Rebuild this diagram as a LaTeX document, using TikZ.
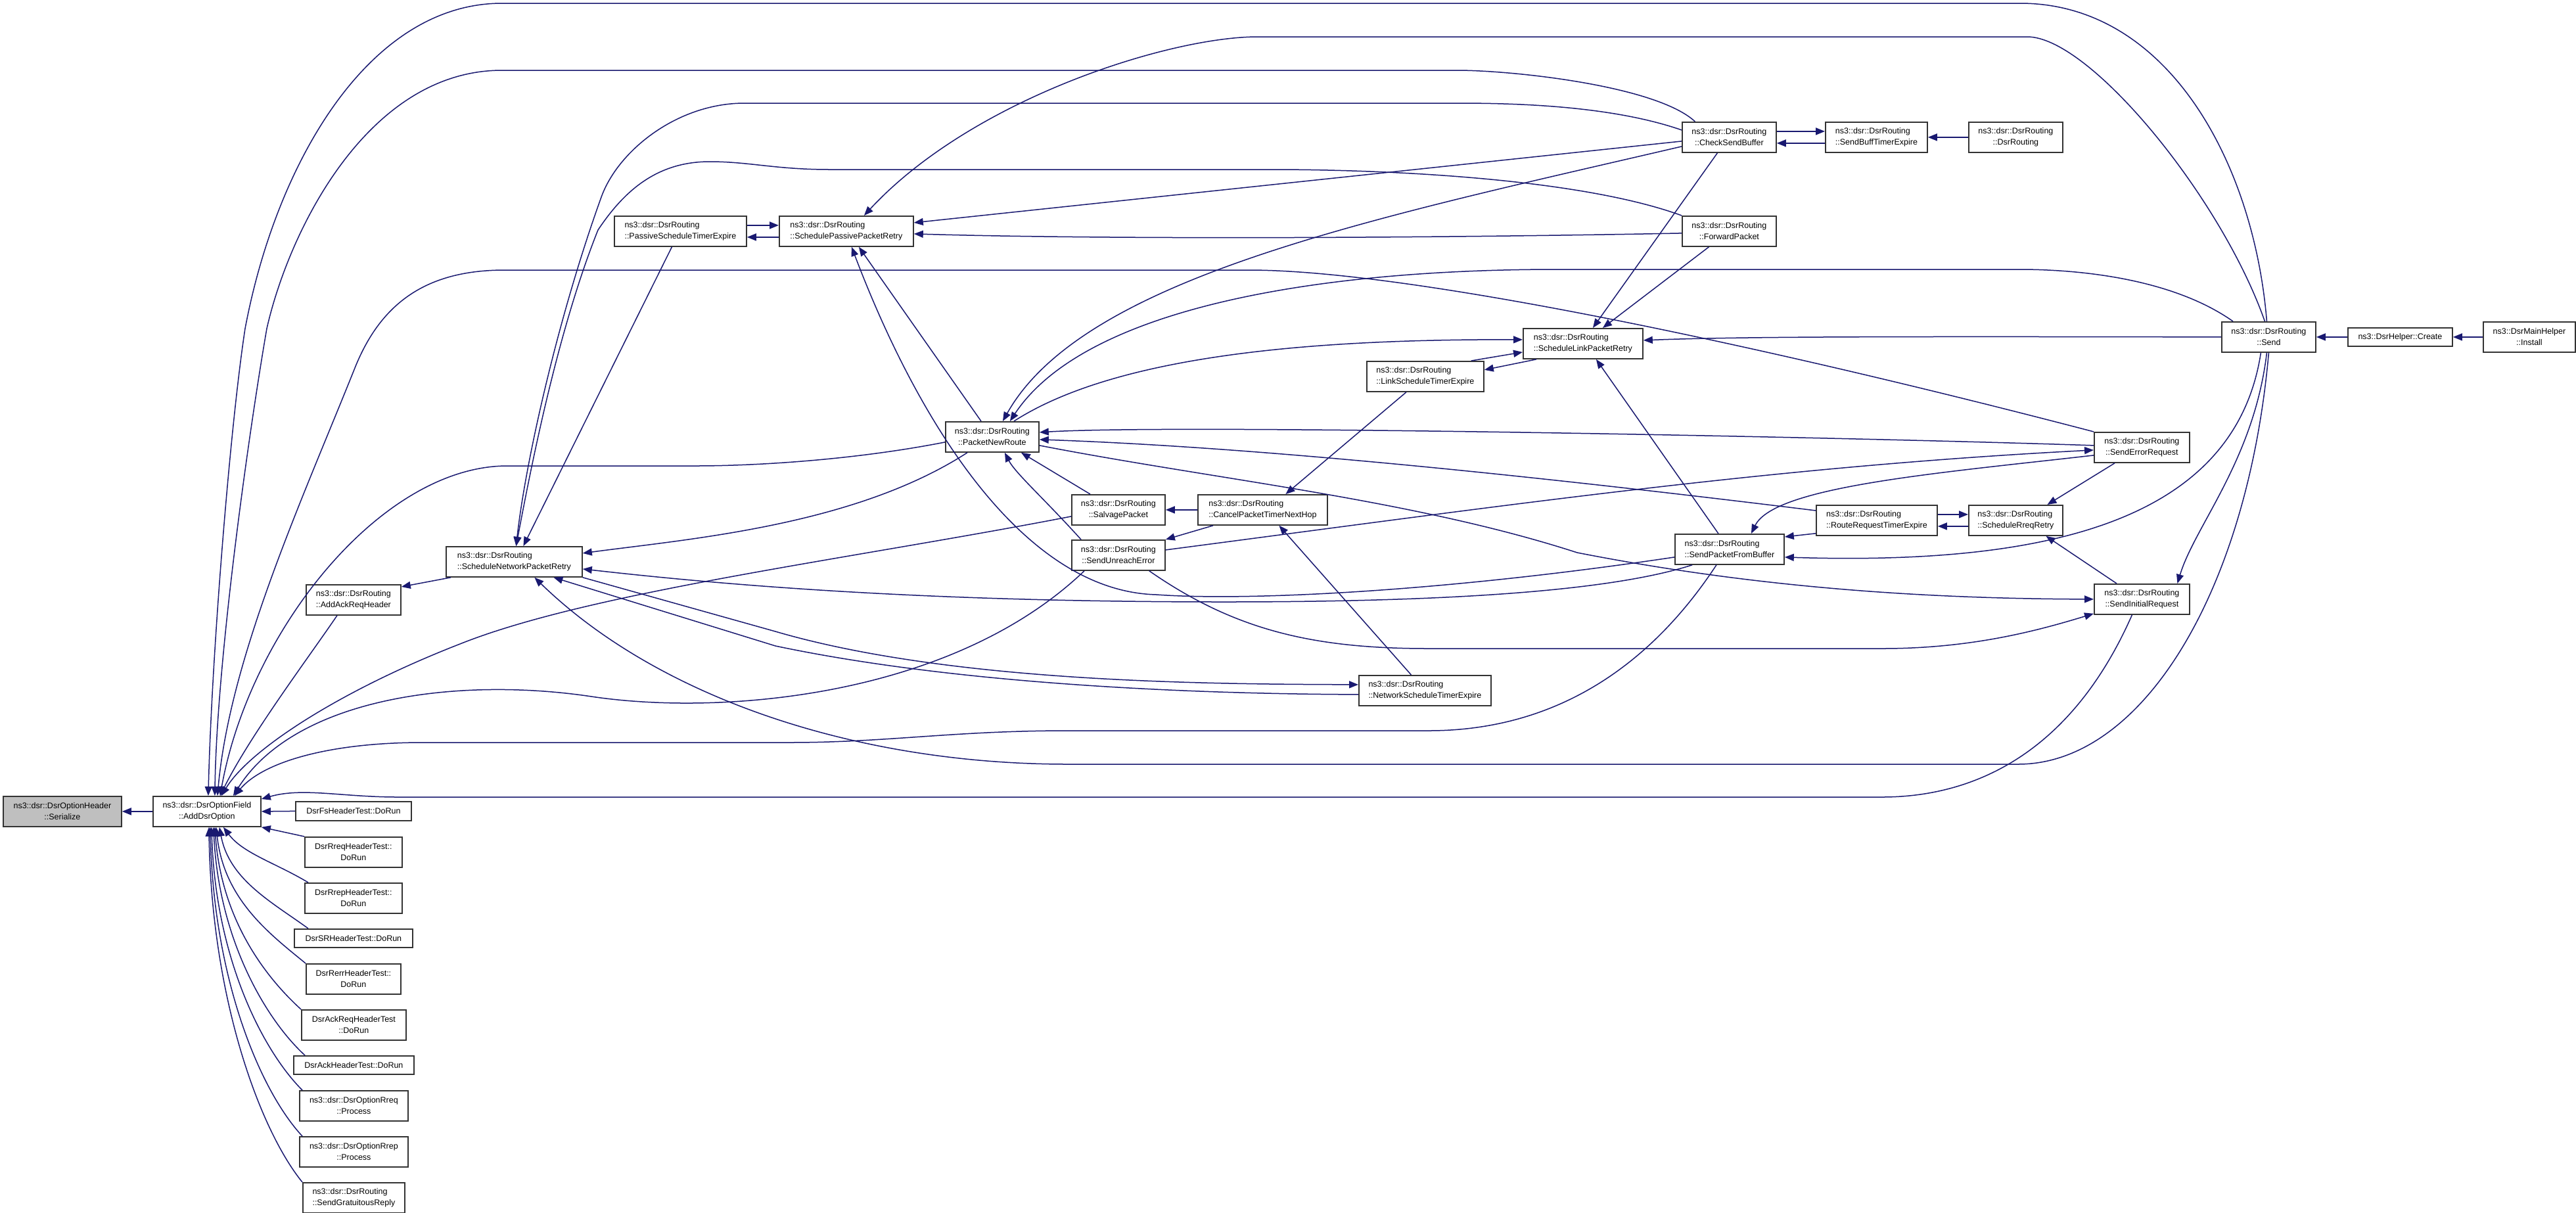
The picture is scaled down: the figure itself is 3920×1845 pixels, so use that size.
\documentclass[tikz,border=0pt]{standalone}
\usepackage{fontspec}
\setmainfont{Liberation Sans}
\usetikzlibrary{arrows.meta, positioning, calc}
\definecolor{edgeblue}{HTML}{191970}
\tikzstyle{fn} = [draw=black!80, line width=1.8pt, fill=white, minimum height=46pt, inner sep=0pt, anchor=north west, align=center, font=\fontsize{12.5}{17}\selectfont]
\tikzstyle{fnl} = [fn, align=left]
\tikzstyle{call} = [draw=edgeblue, line width=1.5pt, -{Triangle[length=14pt, width=11pt]}]

\begin{document}
\begin{tikzpicture}[x=1pt, y=-1pt]
		\fill[white] (0,0) rectangle (3920,1845);
		\useasboundingbox (0,0) rectangle (3920,1845);

		\coordinate (serial) at (4,    1211);
		\coordinate (adddsr) at (232,  1211);
		\coordinate (fstest) at (449,  1219);
		\coordinate (rqtest) at (463,  1273);
		\coordinate (rptest) at (463,  1343);
		\coordinate (srtest) at (447,  1413);
		\coordinate (retest) at (465,  1466);
		\coordinate (aqtest) at (458,  1536);
		\coordinate (aktest) at (446,  1606);
		\coordinate (rqproc) at (455,  1659);
		\coordinate (rpproc) at (455,  1729);
		\coordinate (gratui) at (460,  1799);
		\coordinate (ackreq) at (465,  889);
		\coordinate (netret) at (678,  831);
		\coordinate (pastim) at (934,  328);
		\coordinate (pasret) at (1185, 328);
		\coordinate (newrou) at (1438, 641);
		\coordinate (salvag) at (1630, 752);
		\coordinate (cancel) at (1822, 752);
		\coordinate (unreac) at (1630, 821);
		\coordinate (nettim) at (2067, 1027);
		\coordinate (lnktim) at (2079, 549);
		\coordinate (lnkret) at (2317, 499);
		\coordinate (chkbuf) at (2559, 185);
		\coordinate (forwar) at (2559, 328);
		\coordinate (buftim) at (2777, 185);
		\coordinate (constr) at (2995, 185);
		\coordinate (frombu) at (2548, 812);
		\coordinate (reqtim) at (2763, 768);
		\coordinate (rreqre) at (2995, 768);
		\coordinate (errreq) at (3186, 657);
		\coordinate (initre) at (3186, 888);
		\coordinate (sendpk) at (3380, 489);
		\coordinate (create) at (3572, 498);
		\coordinate (instal) at (3778, 489);

		\node[fn, minimum width=180pt, fill=black!25] (SRL) at (serial) {ns3::dsr::DsrOptionHeader\\::Serialize};
		\node[fn, minimum width=164pt] (ADO) at (adddsr) {ns3::dsr::DsrOptionField\\::AddDsrOption};
		\node[fn, minimum width=176pt, minimum height=29pt] (TFS) at (fstest) {DsrFsHeaderTest::DoRun};
		\node[fn, minimum width=148pt] (TRQ) at (rqtest) {DsrRreqHeaderTest::\\DoRun};
		\node[fn, minimum width=148pt] (TRP) at (rptest) {DsrRrepHeaderTest::\\DoRun};
		\node[fn, minimum width=180pt, minimum height=28pt] (TSR) at (srtest) {DsrSRHeaderTest::DoRun};
		\node[fn, minimum width=144pt] (TRE) at (retest) {DsrRerrHeaderTest::\\DoRun};
		\node[fn, minimum width=159pt] (TAQ) at (aqtest) {DsrAckReqHeaderTest\\::DoRun};
		\node[fn, minimum width=183pt, minimum height=28pt] (TAK) at (aktest) {DsrAckHeaderTest::DoRun};
		\node[fn, minimum width=165pt] (PRQ) at (rqproc) {ns3::dsr::DsrOptionRreq\\::Process};
		\node[fn, minimum width=165pt] (PRP) at (rpproc) {ns3::dsr::DsrOptionRrep\\::Process};
		\node[fnl, minimum width=155pt] (SGR) at (gratui) {ns3::dsr::DsrRouting\\::SendGratuitousReply};
		\node[fn, minimum width=144pt] (AAR) at (ackreq) {ns3::dsr::DsrRouting\\::AddAckReqHeader};
		\node[fnl, minimum width=207pt] (SNP) at (netret) {ns3::dsr::DsrRouting\\::ScheduleNetworkPacketRetry};
		\node[fnl, minimum width=201pt] (PST) at (pastim) {ns3::dsr::DsrRouting\\::PassiveScheduleTimerExpire};
		\node[fnl, minimum width=204pt] (SPP) at (pasret) {ns3::dsr::DsrRouting\\::SchedulePassivePacketRetry};
		\node[fn, minimum width=142pt] (PNR) at (newrou) {ns3::dsr::DsrRouting\\::PacketNewRoute};
		\node[fn, minimum width=142pt] (SLV) at (salvag) {ns3::dsr::DsrRouting\\::SalvagePacket};
		\node[fnl, minimum width=197pt] (CPT) at (cancel) {ns3::dsr::DsrRouting\\::CancelPacketTimerNextHop};
		\node[fn, minimum width=142pt] (SUE) at (unreac) {ns3::dsr::DsrRouting\\::SendUnreachError};
		\node[fnl, minimum width=201pt] (NST) at (nettim) {ns3::dsr::DsrRouting\\::NetworkScheduleTimerExpire};
		\node[fnl, minimum width=178pt] (LST) at (lnktim) {ns3::dsr::DsrRouting\\::LinkScheduleTimerExpire};
		\node[fnl, minimum width=182pt] (SLP) at (lnkret) {ns3::dsr::DsrRouting\\::ScheduleLinkPacketRetry};
		\node[fn, minimum width=143pt] (CSB) at (chkbuf) {ns3::dsr::DsrRouting\\::CheckSendBuffer};
		\node[fn, minimum width=143pt] (FWP) at (forwar) {ns3::dsr::DsrRouting\\::ForwardPacket};
		\node[fnl, minimum width=155pt] (SBT) at (buftim) {ns3::dsr::DsrRouting\\::SendBuffTimerExpire};
		\node[fn, minimum width=143pt] (DRC) at (constr) {ns3::dsr::DsrRouting\\::DsrRouting};
		\node[fnl, minimum width=166pt] (SPB) at (frombu) {ns3::dsr::DsrRouting\\::SendPacketFromBuffer};
		\node[fnl, minimum width=184pt] (RRT) at (reqtim) {ns3::dsr::DsrRouting\\::RouteRequestTimerExpire};
		\node[fnl, minimum width=143pt] (SRR) at (rreqre) {ns3::dsr::DsrRouting\\::ScheduleRreqRetry};
		\node[fn, minimum width=145pt] (SER) at (errreq) {ns3::dsr::DsrRouting\\::SendErrorRequest};
		\node[fn, minimum width=145pt] (SIR) at (initre) {ns3::dsr::DsrRouting\\::SendInitialRequest};
		\node[fn, minimum width=143pt] (SND) at (sendpk) {ns3::dsr::DsrRouting\\::Send};
		\node[fn, minimum width=159pt, minimum height=28pt] (HLP) at (create) {ns3::DsrHelper::Create};
		\node[fn, minimum width=140pt] (INS) at (instal) {ns3::DsrMainHelper\\::Install};

		\draw[call] (ADO.west) -- (SRL.east);
		\draw[call] (TFS.west) -- (ADO.east);
		\draw[call] (TRQ.north west) -- (ADO.south east);
		\draw[call] ($(TRP.north west)+(6,0)$) .. controls +(-50,-30) and +(30,40) .. ($(ADO.south)+(25,0)$);
		\draw[call] ($(TSR.north west)+(22,0)$) .. controls +(-55,-40) and +(15,80) .. ($(ADO.south)+(19,0)$);
		\draw[call] (TRE.north west) .. controls +(-55,-45) and +(12,110) .. ($(ADO.south)+(14,0)$);
		\draw[call] (TAQ.north west) .. controls +(-55,-50) and +(10,140) .. ($(ADO.south)+(12,0)$);
		\draw[call] ($(TAK.north west)+(18,0)$) .. controls +(-60,-55) and +(8,170) .. ($(ADO.south)+(10,0)$);
		\draw[call] ($(PRQ.north west)+(5,0)$) .. controls +(-60,-60) and +(6,200) .. ($(ADO.south)+(7,0)$);
		\draw[call] ($(PRP.north west)+(5,0)$) .. controls +(-65,-70) and +(5,230) .. ($(ADO.south)+(5,0)$);
		\draw[call] (SGR.north west) .. controls +(-65,-80) and +(4,260) .. ($(ADO.south)+(3,0)$);

		\draw[call] ($(AAR.south)+(-25,0)$) .. controls (470,1000) and (380,1120) .. ($(ADO.north)+(20,0)$);
		\draw[call] ($(SNP.south west)+(8,0)$) -- ($(AAR.north east)+(0,4)$);
		\draw[call] ($(SND.north)+(-3,0)$) .. controls (3430,250) and (3300,5) .. (3074,5) -- (764,5) .. controls (560,5) and (420,250) .. (373,500) .. controls (350,650) and (322,1000) .. ($(ADO.north)+(2,0)$);
		\draw[call] ($(CSB.north)+(-52,0)$) .. controls (2520,130) and (2300,107) .. (2217,107) -- (764,107) .. controls (560,107) and (440,350) .. (406,500) .. controls (380,650) and (330,1000) .. ($(ADO.north)+(12,0)$);
		\draw[call] (SER.north west) .. controls (2700,530) and (2150,411) .. (1900,411) -- (768,411) .. controls (650,411) and (580,460) .. (540,560) .. controls (460,760) and (350,1000) .. ($(ADO.north)+(16,0)$);
		\draw[call] ($(PNR.west)+(0,8)$) .. controls (1300,700) and (1150,709) .. (1059,709) -- (772,709) .. controls (580,709) and (380,960) .. ($(ADO.north)+(20,0)$);
		\draw[call] ($(SLV.west)+(0,10)$) .. controls (1300,850) and (900,900) .. (700,980) .. controls (520,1050) and (380,1140) .. ($(ADO.north)+(22,0)$);
		\draw[call] ($(SUE.south west)+(20,0)$) .. controls (1450,1060) and (1100,1090) .. (900,1060) .. controls (700,1030) and (450,1060) .. ($(ADO.north)+(40,0)$);
		\draw[call] ($(SPB.south)+(-20,0)$) .. controls (2500,1030) and (2350,1112) .. (2174,1112) -- (1625,1112) .. controls (1450,1112) and (1350,1130) .. (1200,1130) -- (643,1130) .. controls (500,1130) and (400,1160) .. ($(ADO.north)+(42,0)$);
		\draw[call] ($(SIR.south)+(-15,0)$) .. controls (3150,1150) and (3000,1213) .. (2864,1213) -- (605,1213) .. controls (520,1213) and (460,1198) .. ($(ADO.north east)+(0,5)$);

		\draw[call] ($(PST.east)+(0,-9)$) -- ($(SPP.west)+(0,-9)$);
		\draw[call] ($(SPP.west)+(0,9)$) -- ($(PST.east)+(0,9)$);
		\draw[call] ($(PST.south)+(-13,0)$) -- ($(SNP.north)+(14,0)$);
		\draw[call] ($(CSB.west)+(0,-11)$) .. controls (2450,160) and (2300,157) .. (2217,157) -- (1133,157) .. controls (1030,157) and (940,230) .. (915,300) .. controls (850,480) and (800,700) .. ($(SNP.north)+(3,0)$);
		\draw[call] (FWP.north west) .. controls (2400,270) and (2100,258) .. (1935,258) -- (1263,258) .. controls (1180,258) and (1140,246) .. (1080,246) .. controls (1000,246) and (950,290) .. (910,350) .. controls (850,500) and (810,700) .. ($(SNP.north)+(3,0)$);
		\draw[call] ($(CSB.west)+(0,6)$) -- ($(SPP.east)+(0,-13)$);
		\draw[call] ($(FWP.west)+(0,3)$) .. controls (2200,362) and (1700,365) .. ($(SPP.east)+(0,4)$);
		\draw[call] ($(SND.north)+(-6,0)$) .. controls (3380,300) and (3180,56) .. (3085,56) -- (1914,56) .. controls (1780,56) and (1480,150) .. ($(SPP.north)+(27,0)$);
		\draw[call] ($(CSB.west)+(0,14)$) .. controls (2100,330) and (1650,420) .. ($(PNR.north)+(16,0)$);
		\draw[call] ($(SND.north west)+(18,0)$) .. controls (3300,420) and (3150,410) .. (3073,410) -- (2369,410) .. controls (2000,410) and (1650,470) .. ($(PNR.north)+(27,0)$);
		\draw[call] ($(PNR.north)+(33,0)$) .. controls (1700,540) and (2000,516) .. ($(SLP.west)+(0,-6)$);
		\draw[call] ($(PNR.north west)+(55,0)$) -- ($(SPP.south)+(19,0)$);
		\draw[call] ($(SPB.west)+(0,12)$) .. controls (2200,900) and (1900,915) .. (1760,905) .. controls (1560,900) and (1400,650) .. ($(SPP.south)+(8,0)$);
		\draw[call] ($(SPB.south west)+(27,0)$) .. controls (2450,900) and (2200,916) .. (1863,916) .. controls (1400,916) and (1100,890) .. ($(SNP.east)+(0,11)$);
		\draw[call] ($(PNR.south west)+(34,0)$) .. controls (1300,800) and (1050,820) .. ($(SNP.east)+(0,-13)$);
		\draw[call] ($(SLV.north west)+(29,0)$) -- ($(PNR.south)+(44,0)$);
		\draw[call] ($(SUE.north west)+(15,0)$) .. controls (1590,760) and (1545,720) .. ($(PNR.south)+(19,0)$);
		\draw[call] (CPT.west) -- (SLV.east);
		\draw[call] ($(CPT.south west)+(24,0)$) -- (SUE.north east);
		\draw[call] ($(LST.south)+(-29,0)$) -- ($(CPT.north)+(35,0)$);
		\draw[call] ($(NST.north)+(-21,0)$) -- ($(CPT.south)+(25,0)$);
		\draw[call] (SNP.south east) -- (1180,961) .. controls (1450,1040) and (1850,1041) .. ($(NST.west)+(0,-9)$);
		\draw[call] ($(NST.west)+(0,6)$) .. controls (1800,1056) and (1450,1040) .. (1180,983) -- ($(SNP.south)+(60,0)$);
		\draw[call] (SND.south) .. controls (3420,900) and (3260,1163) .. (3071,1163) -- (1625,1163) .. controls (1300,1163) and (1000,1060) .. ($(SNP.south)+(31,0)$);
		\draw[call] ($(SND.south)+(-3,0)$) .. controls (3430,700) and (3340,800) .. ($(SIR.north)+(54,0)$);
		\draw[call] ($(SND.south)+(-12,0)$) .. controls (3400,800) and (3100,860) .. ($(SPB.east)+(0,12)$);
		\draw[call] (SND.west) .. controls (2900,512) and (2650,512) .. ($(SLP.east)+(0,-5)$);
		\draw[call] ($(CSB.south)+(-18,0)$) -- ($(SLP.north)+(15,0)$);
		\draw[call] ($(FWP.south)+(-31,0)$) -- ($(SLP.north)+(30,0)$);
		\draw[call] ($(SPB.north)+(-17,0)$) -- ($(SLP.south)+(20,0)$);
		\draw[call] ($(LST.north east)+(-20,0)$) -- ($(SLP.west)+(0,13)$);
		\draw[call] ($(SLP.south west)+(21,0)$) -- ($(LST.east)+(0,-10)$);
		\draw[call] ($(CSB.east)+(0,-9)$) -- ($(SBT.west)+(0,-9)$);
		\draw[call] ($(SBT.west)+(0,9)$) -- ($(CSB.east)+(0,9)$);
		\draw[call] (DRC.west) -- (SBT.east);
		\draw[call] (HLP.west) -- (SND.east);
		\draw[call] (INS.west) -- (HLP.east);
		\draw[call] ($(RRT.east)+(0,-9)$) -- ($(SRR.west)+(0,-9)$);
		\draw[call] ($(SRR.west)+(0,9)$) -- ($(RRT.east)+(0,9)$);
		\draw[call] ($(RRT.south west)+(0,-4)$) -- ($(SPB.north east)+(0,5)$);
		\draw[call] ($(RRT.north west)+(0,9)$) .. controls (2300,720) and (1900,680) .. ($(PNR.east)+(0,4)$);
		\draw[call] ($(SER.west)+(0,-3)$) .. controls (2800,665) and (1800,645) .. ($(PNR.east)+(0,-7)$);
		\draw[call] ($(SER.west)+(0,12)$) .. controls (2950,720) and (2700,740) .. ($(SPB.north)+(33,0)$);
		\draw[call] ($(SER.south west)+(32,0)$) -- ($(SRR.north)+(48,0)$);
		\draw[call] ($(SIR.north west)+(35,0)$) -- ($(SRR.south)+(46,0)$);
		\draw[call] ($(SUE.east)+(0,-8)$) .. controls (2300,768) and (2700,710) .. ($(SER.west)+(0,4)$);
		\draw[call] ($(SUE.south east)+(-25,0)$) .. controls (1880,960) and (2000,987) .. (2174,987) -- (2864,987) .. controls (3000,987) and (3100,960) .. ($(SIR.south west)+(0,-2)$);
		\draw[call] ($(PNR.east)+(0,13)$) .. controls (1850,730) and (2150,760) .. (2400,841) .. controls (2650,890) and (2900,911) .. (SIR.west);

	\end{tikzpicture}
\end{document}
